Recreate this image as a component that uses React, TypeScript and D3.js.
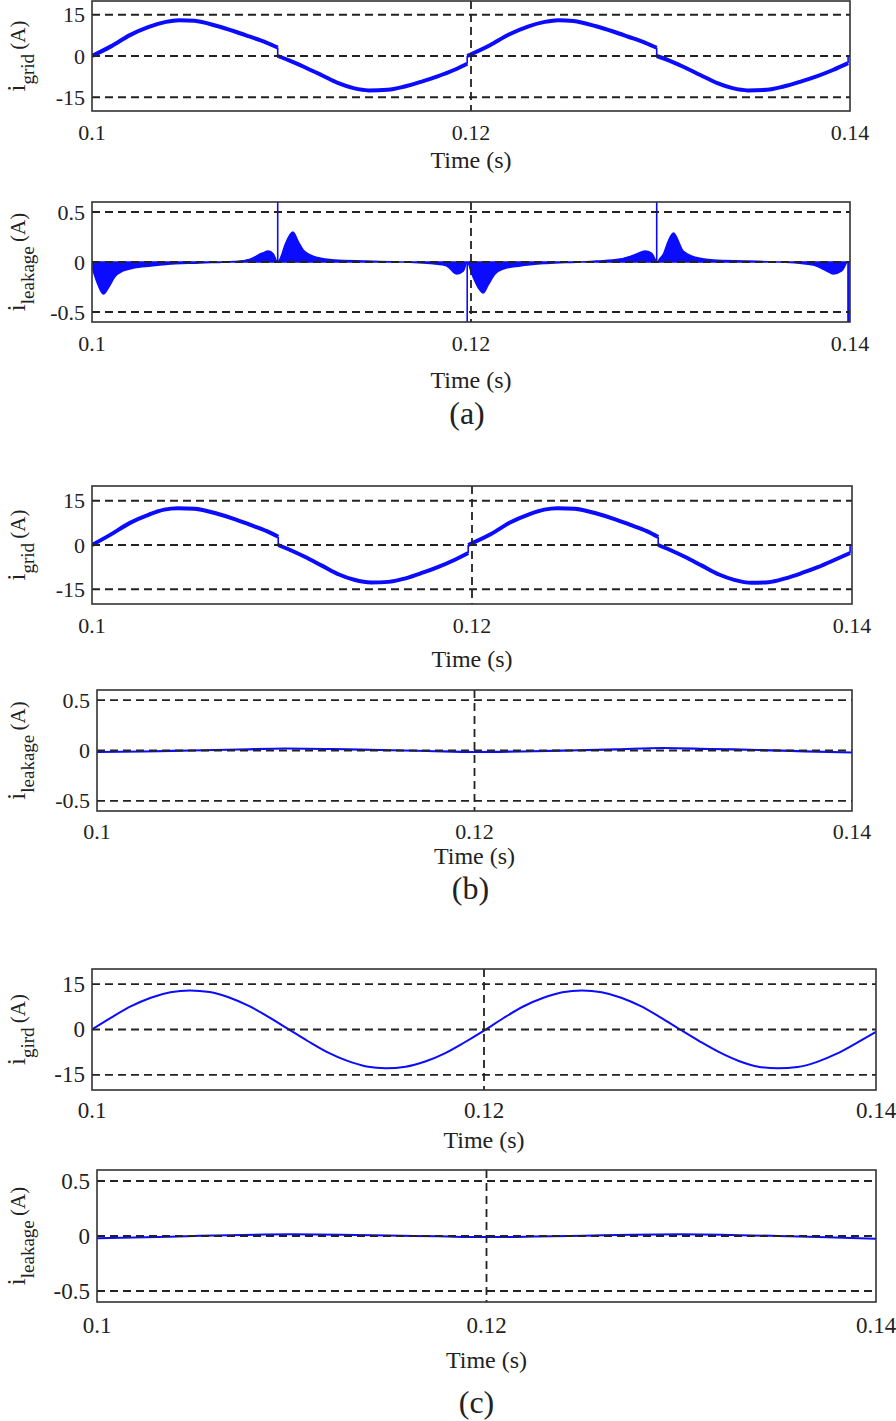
import React from 'react';
import * as d3 from 'd3';

// ---------------- data ----------------
const xTicks = [0.1, 0.12, 0.14];
const xTickLabels = ['0.1', '0.12', '0.14'];
const gridTicks = [15, 0, -15];
const gridTickLabels = ['15', '0', '-15'];
const leakTicks = [0.5, 0, -0.5];
const leakTickLabels = ['0.5', '0', '-0.5'];
const vDashTime = 0.12;

// (a) grid current
const gridATime = [
  0.1000, 0.1010, 0.1020, 0.1030, 0.1039, 0.1046, 0.1054, 0.1066, 0.1075, 0.1083, 0.1092, 0.1098, 0.1098,
  0.1104, 0.1112, 0.1121, 0.1130, 0.1138, 0.1146, 0.1156, 0.1165, 0.1174, 0.1182, 0.1191, 0.1198, 0.1198,
  0.1210, 0.1220, 0.1230, 0.1239, 0.1246, 0.1254, 0.1266, 0.1275, 0.1283, 0.1292, 0.1298, 0.1298,
  0.1304, 0.1312, 0.1321, 0.1330, 0.1338, 0.1346, 0.1356, 0.1365, 0.1374, 0.1382, 0.1391, 0.1399, 0.1399,
];
const gridAValue = [
  0, 3.5, 7.6, 10.6, 12.4, 13.0, 12.8, 10.9, 9.0, 7.1, 4.9, 3.1, 0,
  -1.6, -4.0, -6.9, -9.9, -11.7, -12.5, -12.3, -11.1, -9.3, -7.5, -5.1, -2.8, 0,
  3.9, 7.8, 10.7, 12.4, 13.0, 12.7, 10.8, 8.9, 7.0, 4.8, 3.0, 0,
  -1.5, -3.9, -6.9, -9.9, -11.7, -12.5, -12.3, -11.1, -9.3, -7.5, -5.1, -2.6, 0,
];

// (a) leakage current envelope + spikes
const leakATime = [
  0.1000, 0.1003, 0.1006, 0.10086, 0.1012, 0.10165, 0.1022, 0.1031, 0.1039, 0.1057, 0.1075, 0.1083, 0.1090, 0.1093, 0.10957, 0.1098,
  0.10992, 0.1102, 0.1106, 0.1109, 0.1112, 0.1119, 0.1128, 0.1145, 0.1163, 0.1170, 0.1180, 0.11872, 0.11925, 0.1196, 0.1198,
  0.12004, 0.12039, 0.12065, 0.12091, 0.12127, 0.1217, 0.12259, 0.12399, 0.12575, 0.12663, 0.12786, 0.12874, 0.12918, 0.12953, 0.12983,
  0.12995, 0.13015, 0.13041, 0.13068, 0.1312, 0.1319, 0.13279, 0.13455, 0.13631, 0.13806, 0.13877, 0.13912, 0.13956, 0.13983,
];
const leakAValue = [
  -0.05, -0.22, -0.32, -0.26, -0.15, -0.09, -0.06, -0.04, -0.025, -0.01, 0.005, 0.027, 0.09, 0.11, 0.08, 0.0,
  0.03, 0.18, 0.30, 0.2, 0.11, 0.045, 0.02, 0.01, 0.0, -0.005, -0.017, -0.04, -0.12, -0.09, 0.0,
  -0.12, -0.26, -0.31, -0.23, -0.12, -0.07, -0.04, -0.015, 0.0, 0.01, 0.03, 0.08, 0.11, 0.09, 0.0,
  0.03, 0.08, 0.21, 0.29, 0.11, 0.045, 0.02, 0.01, 0.0, -0.03, -0.09, -0.12, -0.09, 0.0,
];
const leakASpikeTime = [0.1098, 0.1198, 0.1298, 0.13992];
const leakASpikeValue = [0.65, -0.65, 0.65, -0.65];

// (b) grid current
const gridBTime = [
  0.1000, 0.1010, 0.1020, 0.1030, 0.1038, 0.1045, 0.1054, 0.1066, 0.1075, 0.1083, 0.1092, 0.1098, 0.1098,
  0.1104, 0.1112, 0.1121, 0.1130, 0.1138, 0.1147, 0.1156, 0.1165, 0.1174, 0.1182, 0.1191, 0.1198, 0.1198,
  0.1210, 0.1220, 0.1230, 0.1238, 0.1245, 0.1254, 0.1266, 0.1275, 0.1283, 0.1292, 0.1298, 0.1298,
  0.1304, 0.1312, 0.1321, 0.1330, 0.1338, 0.1347, 0.1356, 0.1365, 0.1374, 0.1382, 0.1391, 0.1399, 0.1399,
];
const gridBValue = [
  0, 3.6, 7.5, 10.3, 12.0, 12.5, 12.3, 10.6, 8.8, 6.9, 4.7, 2.8, 0,
  -1.6, -4.0, -7.0, -10.0, -11.8, -12.7, -12.5, -11.3, -9.4, -7.5, -5.0, -2.7, 0,
  3.7, 7.6, 10.4, 12.0, 12.5, 12.3, 10.6, 8.8, 6.9, 4.7, 2.7, 0,
  -1.6, -4.0, -7.0, -10.0, -11.8, -12.8, -12.6, -11.3, -9.4, -7.5, -5.0, -2.7, 0,
];

// (b) leakage current
const leakBTime = [0.100, 0.1025, 0.105, 0.1075, 0.110, 0.1125, 0.115, 0.1175, 0.120, 0.1225, 0.125, 0.1275, 0.130, 0.1325, 0.135, 0.1375, 0.140];
const leakBValue = [-0.015, -0.01, 0.0, 0.01, 0.02, 0.015, 0.005, -0.005, -0.015, -0.01, 0.0, 0.012, 0.025, 0.015, 0.005, -0.008, -0.02];

// (c) grid current
const gridCTime = [
  0.100, 0.101, 0.102, 0.103, 0.104, 0.105, 0.106, 0.107, 0.108, 0.109, 0.110,
  0.111, 0.112, 0.113, 0.114, 0.115, 0.116, 0.117, 0.118, 0.119, 0.120,
  0.121, 0.122, 0.123, 0.124, 0.125, 0.126, 0.127, 0.128, 0.129, 0.130,
  0.131, 0.132, 0.133, 0.134, 0.135, 0.136, 0.137, 0.138, 0.139, 0.140,
];
const gridCValue = [
  0, 4.0, 7.7, 10.5, 12.3, 12.9, 12.4, 10.6, 7.8, 4.2, 0.2,
  -3.8, -7.5, -10.3, -12.2, -12.8, -12.3, -10.6, -7.9, -4.3, -0.4,
  3.8, 7.6, 10.4, 12.3, 12.9, 12.3, 10.5, 7.7, 4.0, 0.0,
  -3.9, -7.5, -10.4, -12.3, -12.8, -12.4, -10.7, -8.0, -4.5, -0.8,
];

// (c) leakage current
const leakCTime = [0.100, 0.1025, 0.105, 0.1075, 0.110, 0.1125, 0.115, 0.1175, 0.120, 0.1225, 0.125, 0.1275, 0.130, 0.1325, 0.135, 0.1375, 0.140];
const leakCValue = [-0.02, -0.012, 0.0, 0.01, 0.015, 0.012, 0.005, -0.003, -0.01, -0.005, 0.003, 0.012, 0.015, 0.01, 0.0, -0.012, -0.025];

// ---------------- drawing ----------------
const FONT = "'Liberation Serif', 'Times New Roman', serif";
const BLUE = '#0b0bff';
const INK = '#222';

type Pt = [number, number];

function splitRuns(ts: number[], vs: number[]): Pt[][] {
  const runs: Pt[][] = [];
  let cur: Pt[] = [];
  for (let i = 0; i < ts.length; i++) {
    if (cur.length && ts[i] <= cur[cur.length - 1][0]) {
      runs.push(cur);
      cur = [];
    }
    cur.push([ts[i], vs[i]]);
  }
  if (cur.length) runs.push(cur);
  return runs;
}

interface PanelCfg {
  id: string;
  left: number;
  right: number;
  top: number;
  bottom: number;
  kind: 'grid' | 'leak';
  sub: string;
  tickFont: number;
  xLabelY: number;
  timeY: number;
  caption?: string;
  captionY?: number;
  captionDx?: number;
  draw: (x: d3.ScaleLinear<number, number>, y: d3.ScaleLinear<number, number>) => React.ReactNode;
}

function steppedLine(ts: number[], vs: number[], width: number) {
  return (x: d3.ScaleLinear<number, number>, y: d3.ScaleLinear<number, number>) => {
    const runs = splitRuns(ts, vs);
    const line = d3.line<Pt>().x((d) => x(d[0])).y((d) => y(d[1])).curve(d3.curveMonotoneX);
    const out: React.ReactNode[] = [];
    runs.forEach((r, i) => {
      out.push(<path key={'r' + i} d={line(r) || ''} fill="none" stroke={BLUE} strokeWidth={width} strokeLinejoin="round" />);
      if (i < runs.length - 1) {
        const a = r[r.length - 1];
        const b = runs[i + 1][0];
        out.push(<line key={'s' + i} x1={x(a[0])} y1={y(a[1])} x2={x(b[0])} y2={y(b[1])} stroke={BLUE} strokeWidth={1.6} />);
      }
    });
    return <g>{out}</g>;
  };
}

function smoothLine(ts: number[], vs: number[], width: number) {
  return (x: d3.ScaleLinear<number, number>, y: d3.ScaleLinear<number, number>) => {
    const pts: Pt[] = ts.map((t, i) => [t, vs[i]]);
    const line = d3.line<Pt>().x((d) => x(d[0])).y((d) => y(d[1])).curve(d3.curveMonotoneX);
    return <path d={line(pts) || ''} fill="none" stroke={BLUE} strokeWidth={width} />;
  };
}

function leakAreaWithSpikes(x: d3.ScaleLinear<number, number>, y: d3.ScaleLinear<number, number>) {
  const pts: Pt[] = leakATime.map((t, i) => [t, leakAValue[i]]);
  const area = d3
    .area<Pt>()
    .x((d) => x(d[0]))
    .y0(y(0))
    .y1((d) => y(d[1]))
    .curve(d3.curveMonotoneX);
  return (
    <g>
      <path d={area(pts) || ''} fill={BLUE} stroke={BLUE} strokeWidth={1.4} />
      {leakASpikeTime.map((t, i) => (
        <line key={i} x1={x(t)} x2={x(t)} y1={y(0)} y2={y(leakASpikeValue[i])} stroke={BLUE} strokeWidth={i === 3 ? 2.6 : 1.6} />
      ))}
    </g>
  );
}

const panels: PanelCfg[] = [
  { id: 'p1', left: 92, right: 850, top: 1, bottom: 111, kind: 'grid', sub: 'grid', tickFont: 22, xLabelY: 132, timeY: 160, draw: steppedLine(gridATime, gridAValue, 4) },
  { id: 'p2', left: 92, right: 850, top: 202, bottom: 322, kind: 'leak', sub: 'leakage', tickFont: 22, xLabelY: 343, timeY: 380, caption: '(a)', captionY: 413, captionDx: -4, draw: leakAreaWithSpikes },
  { id: 'p3', left: 92, right: 852, top: 486, bottom: 604, kind: 'grid', sub: 'grid', tickFont: 22, xLabelY: 625, timeY: 659, draw: steppedLine(gridBTime, gridBValue, 4) },
  { id: 'p4', left: 97, right: 852, top: 690, bottom: 811, kind: 'leak', sub: 'leakage', tickFont: 22, xLabelY: 831, timeY: 856, caption: '(b)', captionY: 888, captionDx: -4, draw: smoothLine(leakBTime, leakBValue, 2.2) },
  { id: 'p5', left: 92, right: 876, top: 969, bottom: 1090, kind: 'grid', sub: 'gird', tickFont: 23, xLabelY: 1110, timeY: 1140, draw: smoothLine(gridCTime, gridCValue, 2) },
  { id: 'p6', left: 97, right: 876, top: 1170, bottom: 1302, kind: 'leak', sub: 'leakage', tickFont: 23, xLabelY: 1325, timeY: 1360, caption: '(c)', captionY: 1402, captionDx: -10, draw: smoothLine(leakCTime, leakCValue, 2) },
];

function Panel({ cfg }: { cfg: PanelCfg }) {
  const x = d3.scaleLinear().domain([0.1, 0.14]).range([cfg.left, cfg.right]);
  const y = d3
    .scaleLinear()
    .domain(cfg.kind === 'grid' ? [-20, 20] : [-0.6, 0.6])
    .range([cfg.bottom, cfg.top]);
  const yTicks = cfg.kind === 'grid' ? gridTicks : leakTicks;
  const yLabels = cfg.kind === 'grid' ? gridTickLabels : leakTickLabels;
  const cx = (cfg.left + cfg.right) / 2;
  const cy = (cfg.top + cfg.bottom) / 2;
  const clipId = 'clip-' + cfg.id;
  return (
    <g>
      <defs>
        <clipPath id={clipId}>
          <rect x={cfg.left} y={cfg.top} width={cfg.right - cfg.left} height={cfg.bottom - cfg.top} />
        </clipPath>
      </defs>
      <g clipPath={`url(#${clipId})`}>{cfg.draw(x, y)}</g>
      {yTicks.map((v) => (
        <line key={'h' + v} x1={cfg.left} x2={cfg.right} y1={y(v)} y2={y(v)} stroke={INK} strokeWidth={1.8} strokeDasharray="8,5" />
      ))}
      <line x1={x(vDashTime)} x2={x(vDashTime)} y1={cfg.top} y2={cfg.bottom} stroke={INK} strokeWidth={1.8} strokeDasharray="8,5" />
      <rect x={cfg.left} y={cfg.top} width={cfg.right - cfg.left} height={cfg.bottom - cfg.top} fill="none" stroke="#333" strokeWidth={1.6} />
      {yTicks.map((v, i) => (
        <text key={'yl' + v} x={cfg.left - 7} y={y(v)} textAnchor="end" dominantBaseline="central" fontSize={cfg.tickFont} fontFamily={FONT} fill={INK}>
          {yLabels[i]}
        </text>
      ))}
      {xTicks.map((t, i) => (
        <text key={'xl' + t} x={x(t)} y={cfg.xLabelY} textAnchor="middle" dominantBaseline="central" fontSize={cfg.tickFont} fontFamily={FONT} fill={INK}>
          {xTickLabels[i]}
        </text>
      ))}
      <text x={cx} y={cfg.timeY} textAnchor="middle" dominantBaseline="central" fontSize={24} fontFamily={FONT} fill={INK}>
        Time (s)
      </text>
      <text transform={`translate(25,${cy}) rotate(-90)`} textAnchor="middle" fontFamily={FONT} fill={INK}>
        <tspan fontSize={25}>i</tspan>
        <tspan fontSize={19} dy={9}>{cfg.sub}</tspan>
        <tspan fontSize={21} dy={-9}>{'\u2009(A)'}</tspan>
      </text>
      {cfg.caption && (
        <text x={cx + (cfg.captionDx || 0)} y={cfg.captionY} textAnchor="middle" dominantBaseline="central" fontSize={32} fontFamily={FONT} fill={INK}>
          {cfg.caption}
        </text>
      )}
    </g>
  );
}

export default function App() {
  return (
    <svg width={896} height={1421} style={{ position: 'absolute', left: 0, top: 0, background: '#fff' }}>
      <rect x={0} y={0} width={896} height={1421} fill="#fff" />
      {panels.map((p) => (
        <Panel key={p.id} cfg={p} />
      ))}
    </svg>
  );
}
